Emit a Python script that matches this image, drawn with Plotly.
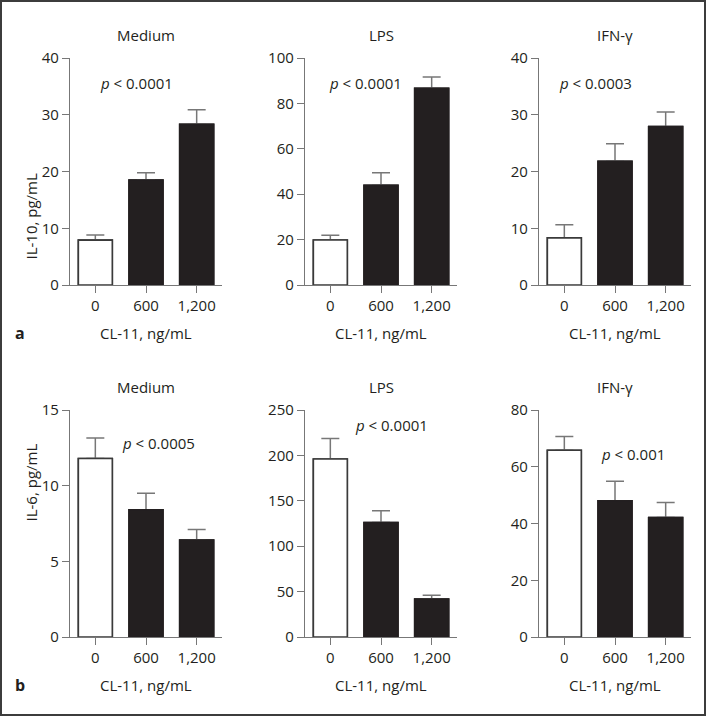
import plotly.graph_objects as go

# CL-11 doses on the x axis
doses = ["0", "600", "1,200"]

# panel a: IL-10 (pg/mL), mean and upper error
il10_medium = [7.9, 18.5, 28.3]
il10_medium_err = [0.9, 1.3, 2.6]
il10_lps = [19.8, 43.9, 86.6]
il10_lps_err = [2.1, 5.6, 5.0]
il10_ifn = [8.3, 21.8, 27.9]
il10_ifn_err = [2.3, 3.1, 2.6]

# panel b: IL-6 (pg/mL)
il6_medium = [11.8, 8.4, 6.4]
il6_medium_err = [1.35, 1.1, 0.7]
il6_lps = [196.0, 126.0, 41.7]
il6_lps_err = [22.5, 13.0, 4.3]
il6_ifn = [65.8, 48.0, 42.1]
il6_ifn_err = [4.9, 6.9, 5.3]

conditions = ["Medium", "LPS", "IFN-γ"]
p_top = ["0.0001", "0.0001", "0.0003"]
p_bottom = ["0.0005", "0.0001", "0.001"]

W, H = 707, 717
INK = "#231f20"
GREY = "#777777"
FONT = "Open Sans"
FS = 15

# panel boxes in pixels (left, right) and (top, bottom)
cols = [(70, 222), (305, 457), (539, 691)]
rows = [(58, 285), (410, 637)]

panels = [
    (il10_medium, il10_medium_err, [0, 40], 10, p_top[0], (0.185, 0.89)),
    (il10_lps, il10_lps_err, [0, 100], 20, p_top[1], (0.145, 0.89)),
    (il10_ifn, il10_ifn_err, [0, 40], 10, p_top[2], (0.12, 0.89)),
    (il6_medium, il6_medium_err, [0, 15], 5, p_bottom[0], (0.33, 0.855)),
    (il6_lps, il6_lps_err, [0, 250], 50, p_bottom[1], (0.315, 0.935)),
    (il6_ifn, il6_ifn_err, [0, 80], 20, p_bottom[2], (0.395, 0.805)),
]

fig = go.Figure()
annotations = []
layout = {}

for i, (vals, errs, yrange, dtick, pval, ppos) in enumerate(panels):
    r, c = divmod(i, 3)
    n = "" if i == 0 else str(i + 1)
    x0, x1 = cols[c]
    top, bot = rows[r]

    bar_style = dict(
        x=doses,
        y=vals,
        xaxis="x" + n,
        yaxis="y" + n,
        width=0.67,
        marker=dict(
            color=["white", INK, INK],
            line=dict(color=["#3a3a3a", INK, INK], width=1.6),
        ),
        showlegend=False,
        hoverinfo="skip",
    )
    # bars carrying the upper error bars
    fig.add_trace(go.Bar(
        **bar_style,
        error_y=dict(
            type="data",
            symmetric=False,
            array=errs,
            arrayminus=[0, 0, 0],
            color=GREY,
            thickness=1.5,
            width=9,
        ),
    ))
    # same bars again on top, to hide the lower end of the error bars
    fig.add_trace(go.Bar(**bar_style))

    axis_style = dict(
        showline=True,
        linecolor=GREY,
        linewidth=1.3,
        ticks="outside",
        ticklen=7,
        tickcolor=GREY,
        tickwidth=1.3,
        showgrid=False,
        zeroline=False,
        fixedrange=True,
        automargin=False,
        tickfont=dict(size=FS),
    )
    layout["xaxis" + n] = dict(
        domain=[x0 / W, x1 / W],
        anchor="y" + n,
        type="category",
        range=[-0.5, 2.5],
        **axis_style,
    )
    layout["yaxis" + n] = dict(
        domain=[1 - bot / H, 1 - top / H],
        anchor="x" + n,
        range=yrange,
        dtick=dtick,
        **axis_style,
    )

    # condition title above each panel
    annotations.append(dict(
        text=conditions[c], xref="x" + n + " domain", x=0.5,
        yref="paper", y=1 - (top - 23) / H, yanchor="middle",
        showarrow=False,
    ))
    # x axis title
    annotations.append(dict(
        text="CL-11, ng/mL", xref="x" + n + " domain", x=0.5,
        yref="paper", y=1 - (bot + 48) / H, yanchor="middle",
        showarrow=False,
    ))
    # p value
    annotations.append(dict(
        text="<i>p</i> &lt; " + pval, xref="x" + n + " domain", x=ppos[0],
        xanchor="left", yref="y" + n + " domain", y=ppos[1], yanchor="middle",
        showarrow=False,
    ))

# y axis titles and panel letters
for label, (top, bot), letter in zip(["IL-10, pg/mL", "IL-6, pg/mL"], rows, ["a", "b"]):
    annotations.append(dict(
        text=label, xref="paper", x=18 / W, yref="paper", y=1 - (top + bot) / 2 / H,
        textangle=-90, showarrow=False,
    ))
    annotations.append(dict(
        text="<b>" + letter + "</b>", xref="paper", x=13 / W, yref="paper",
        y=1 - (bot + 48) / H, yanchor="middle", showarrow=False,
        font=dict(size=FS + 1),
    ))

fig.update_layout(
    **layout,
    template="none",
    barmode="overlay",
    annotations=annotations,
    width=W,
    height=H,
    margin=dict(l=0, r=0, t=0, b=0),
    paper_bgcolor="white",
    plot_bgcolor="white",
    font=dict(family=FONT, size=FS, color=INK),
    shapes=[dict(
        type="rect", xref="paper", yref="paper",
        x0=1 / W, x1=1 - 2 / W, y0=2 / H, y1=1 - 1 / H,
        line=dict(color="#3c3c3c", width=2),
    )],
)

# drop the default page margin so the figure sits at the window origin
fig.write_html(
    "out.html",
    config={"displayModeBar": False},
    post_script="document.body.style.margin='0';document.body.style.overflow='hidden';",
)
